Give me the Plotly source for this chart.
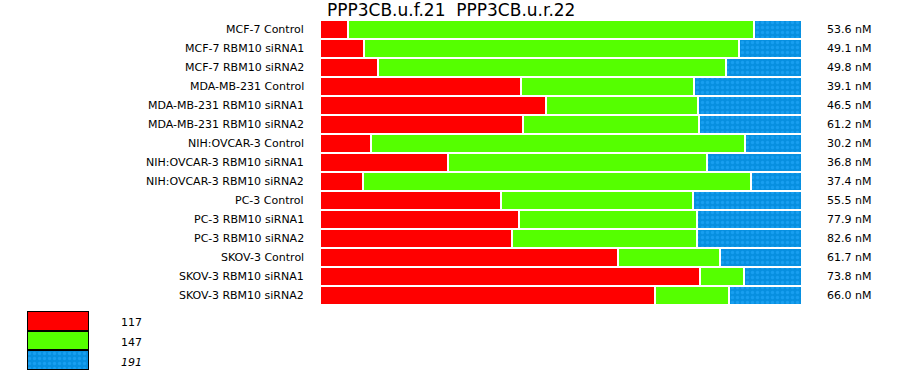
import plotly.graph_objects as go

W, H = 900, 375

categories = [
    "MCF-7 Control", "MCF-7 RBM10 siRNA1", "MCF-7 RBM10 siRNA2",
    "MDA-MB-231 Control", "MDA-MB-231 RBM10 siRNA1", "MDA-MB-231 RBM10 siRNA2",
    "NIH:OVCAR-3 Control", "NIH:OVCAR-3 RBM10 siRNA1", "NIH:OVCAR-3 RBM10 siRNA2",
    "PC-3 Control", "PC-3 RBM10 siRNA1", "PC-3 RBM10 siRNA2",
    "SKOV-3 Control", "SKOV-3 RBM10 siRNA1", "SKOV-3 RBM10 siRNA2",
]
red_117 = [5.81, 9.13, 12.03, 41.70, 46.89, 42.12, 10.58, 26.56, 8.92, 37.55, 41.29, 39.83, 61.83, 78.84, 69.50]
green_147 = [84.23, 77.80, 72.20, 35.89, 31.53, 36.51, 77.59, 53.73, 80.50, 39.84, 36.93, 38.39, 21.16, 9.13, 15.35]
blue_191 = [9.96, 13.07, 15.77, 22.41, 21.58, 21.37, 11.83, 19.71, 10.58, 22.61, 21.78, 21.78, 17.01, 12.03, 15.15]
conc_nM = [53.6, 49.1, 49.8, 39.1, 46.5, 61.2, 30.2, 36.8, 37.4, 55.5, 77.9, 82.6, 61.7, 73.8, 66.0]

legend_labels = ["117", "147", "191"]
legend_size = [1, 1, 1]
title_text = "PPP3CB.u.f.21&nbsp;&nbsp;PPP3CB.u.r.22"

RED = "#ff0000"
GREEN = "#55ff00"
BLUE_BG = "#078fe0"
BLUE_FG = "#2aaeff"
FONT = "DejaVu Sans"

pattern = dict(shape=".", bgcolor=BLUE_BG, fgcolor=BLUE_FG, size=5, solidity=0.35)

fig = go.Figure()
fig.add_trace(go.Bar(y=categories, x=red_117, orientation="h",
                     marker=dict(color=RED, line=dict(color="white", width=2)),
                     xaxis="x", yaxis="y", hoverinfo="skip"))
fig.add_trace(go.Bar(y=categories, x=green_147, orientation="h",
                     marker=dict(color=GREEN, line=dict(color="white", width=2)),
                     xaxis="x", yaxis="y", hoverinfo="skip"))
fig.add_trace(go.Bar(y=categories, x=blue_191, orientation="h",
                     marker=dict(color=BLUE_BG, pattern=pattern, line=dict(color="white", width=2)),
                     xaxis="x", yaxis="y", hoverinfo="skip"))

# legend boxes: one bar per series on a small secondary axis
leg_idx = list(range(len(legend_labels)))
leg_colors = [RED, GREEN, BLUE_BG]
for i in leg_idx:
    mk = dict(color=leg_colors[i], line=dict(color="black", width=2))
    if i == 2:
        mk["pattern"] = pattern
    fig.add_trace(go.Bar(y=[i], x=[legend_size[i]], orientation="h", width=1,
                         marker=mk, xaxis="x2", yaxis="y2", hoverinfo="skip"))

annotations = []
for c in categories:
    annotations.append(dict(x=306 / W, xref="paper", y=c, yref="y", text=c,
                            xanchor="right", yanchor="middle", showarrow=False,
                            font=dict(family=FONT, size=11, color="black")))
for c, v in zip(categories, conc_nM):
    annotations.append(dict(x=873 / W, xref="paper", y=c, yref="y", text=f"{v:.1f} nM",
                            xanchor="right", yanchor="middle", showarrow=False,
                            font=dict(family=FONT, size=11, color="black")))
for i, lab in zip(leg_idx, legend_labels):
    txt = f"<i>{lab}</i>" if i == 2 else lab
    annotations.append(dict(x=119 / W, xref="paper", y=i, yref="y2", text=txt,
                            xanchor="left", yanchor="middle", showarrow=False, yshift=-2,
                            font=dict(family=FONT, size=11, color="black")))
annotations.append(dict(x=325 / W, xref="paper", y=1 - 10 / H, yref="paper", text=title_text,
                        xanchor="left", yanchor="middle", showarrow=False,
                        font=dict(family=FONT, size=17, color="black")))

fig.update_layout(
    width=W, height=H,
    margin=dict(l=0, r=0, t=0, b=0),
    paper_bgcolor="white", plot_bgcolor="white",
    barmode="stack", bargap=0, showlegend=False,
    xaxis=dict(domain=[320 / W, 802 / W], range=[0, 100], visible=False, fixedrange=True),
    yaxis=dict(domain=[(H - 305) / H, (H - 20) / H], type="category",
               range=[len(categories) - 0.5, -0.5],
               visible=False, categoryorder="array", categoryarray=categories),
    xaxis2=dict(domain=[27 / W, 89 / W], range=[0, 1], visible=False, anchor="y2"),
    yaxis2=dict(domain=[(H - 370) / H, (H - 311) / H], type="linear",
                range=[len(legend_labels) - 0.5, -0.5], visible=False, anchor="x2"),
    annotations=annotations,
)

fig.write_html("out.html")
